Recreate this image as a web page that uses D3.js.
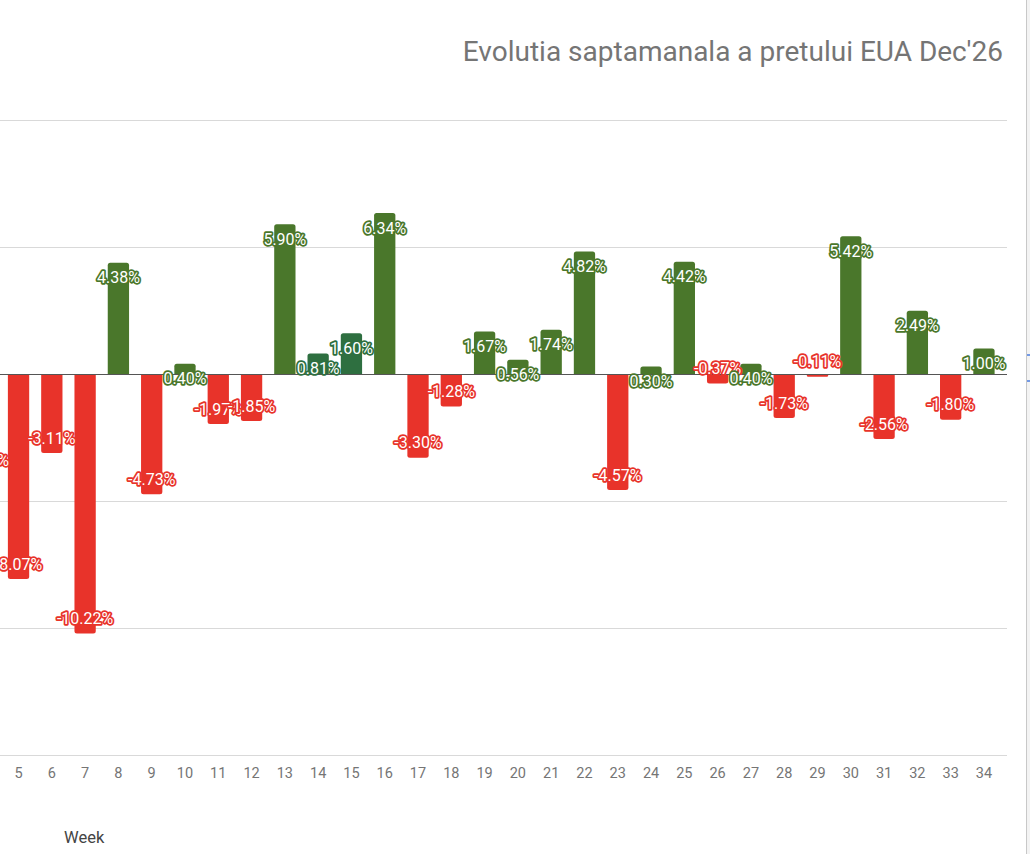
<!DOCTYPE html>
<html>
<head>
<meta charset="utf-8">
<script src="https://cdn.jsdelivr.net/npm/d3@7"></script>
<style>
  body { margin: 0; background: white; overflow: hidden; }
  text { font-family: Roboto, "Noto Sans", sans-serif; }
</style>
</head>
<body>
<div id="chart"></div>
<script>
let W = 1030
let H = 854

// weeks and weekly change (%)
let weeks = [4, 5, 6, 7, 8, 9, 10, 11, 12, 13, 14, 15, 16, 17, 18, 19,
    20, 21, 22, 23, 24, 25, 26, 27, 28, 29, 30, 31, 32, 33, 34]
let changes = [-3.98, -8.07, -3.11, -10.22, 4.38, -4.73, 0.40, -1.97, -1.85, 5.90, 0.81, 1.60, 6.34,
    -3.30, -1.28, 1.67, 0.56, 1.74, 4.82, -4.57, 0.30, 4.42, -0.37, 0.40, -1.73, -0.11,
    5.42, -2.56, 2.49, -1.80, 1.00]
// weeks drawn in the darker green
let darkWeeks = [14, 15]
let yTicks = [-15, -10, -5, 0, 5, 10]

let data = weeks.map((w, i) => ({ week: w, value: changes[i] }))

let svg = d3.select("#chart")
    .append("svg")
    .attr("width", W)
    .attr("height", H)

// chart area starts left of the visible window (picture is cropped)
let x = d3.scaleBand()
    .domain(weeks)
    .range([-31.4, 1000.6])
    .paddingInner(0.36)
    .paddingOuter(0.18)

let y = d3.scaleLinear()
    .domain([-15, 10])
    .range([755, 120])

let color = d => d.value < 0 ? "#e8332a" : (darkWeeks.includes(d.week) ? "#2e6f40" : "#4a772b")

// spreadsheet edge on the right
svg.append("rect")
    .attr("x", 1027).attr("y", 0).attr("width", 3).attr("height", H)
    .attr("fill", "#f3f3f3")
svg.append("line")
    .attr("x1", 1026.5).attr("x2", 1026.5).attr("y1", 0).attr("y2", H)
    .attr("stroke", "#c8c8c8")
svg.append("g").selectAll("line")
    .data([355, 381]).join("line")
    .attr("x1", 1027).attr("x2", 1030)
    .attr("y1", d => d).attr("y2", d => d)
    .attr("stroke", "#4a7de0").attr("stroke-width", 1.5)

// gridlines
svg.append("g")
    .selectAll("line")
    .data(yTicks.filter(t => t !== 0))
    .join("line")
    .attr("x1", 0).attr("x2", 1007)
    .attr("y1", d => Math.round(y(d)) + 0.5)
    .attr("y2", d => Math.round(y(d)) + 0.5)
    .attr("stroke", "#d9d9d9")

// bars with rounded ends
let r = 2.5
function barPath(d) {
    let x0 = x(d.week), w = x.bandwidth()
    let y0 = y(0), y1 = y(d.value)
    let h = Math.abs(y1 - y0)
    let rr = Math.min(r, h / 2)
    if (d.value >= 0) {
        return `M${x0},${y0}V${y1 + rr}Q${x0},${y1} ${x0 + rr},${y1}H${x0 + w - rr}Q${x0 + w},${y1} ${x0 + w},${y1 + rr}V${y0}Z`
    }
    return `M${x0},${y0}V${y1 - rr}Q${x0},${y1} ${x0 + rr},${y1}H${x0 + w - rr}Q${x0 + w},${y1} ${x0 + w},${y1 - rr}V${y0}Z`
}

svg.append("g")
    .selectAll("path")
    .data(data)
    .join("path")
    .attr("d", barPath)
    .attr("fill", color)

// zero line
svg.append("line")
    .attr("x1", 0).attr("x2", 1007)
    .attr("y1", Math.round(y(0)) + 0.5).attr("y2", Math.round(y(0)) + 0.5)
    .attr("stroke", "#555")

// value labels: white text with a halo of the bar colour
svg.append("g")
    .selectAll("text")
    .data(data)
    .join("text")
    .attr("x", d => x(d.week) + x.bandwidth() / 2)
    .attr("y", d => d.value >= 0 ? y(d.value) + 15 : y(d.value) - 15)
    .attr("dy", "0.35em")
    .attr("text-anchor", "middle")
    .attr("font-size", 16)
    .attr("fill", "white")
    .attr("stroke", color)
    .attr("stroke-width", 3.5)
    .attr("stroke-linejoin", "round")
    .attr("paint-order", "stroke")
    .text(d => d.value.toFixed(2) + "%")

// x axis labels
svg.append("g")
    .selectAll("text")
    .data(weeks)
    .join("text")
    .attr("x", d => x(d) + x.bandwidth() / 2)
    .attr("y", 778)
    .attr("text-anchor", "middle")
    .attr("font-size", 14.5)
    .attr("fill", "#757575")
    .text(d => d)

svg.append("text")
    .attr("x", 64)
    .attr("y", 843)
    .attr("font-size", 16.5)
    .attr("fill", "#444")
    .text("Week")

// title
svg.append("text")
    .attr("x", 1003)
    .attr("y", 61)
    .attr("text-anchor", "end")
    .attr("font-size", 28)
    .attr("fill", "#757575")
    .text("Evolutia saptamanala a pretului EUA Dec'26")
</script>
</body>
</html>
